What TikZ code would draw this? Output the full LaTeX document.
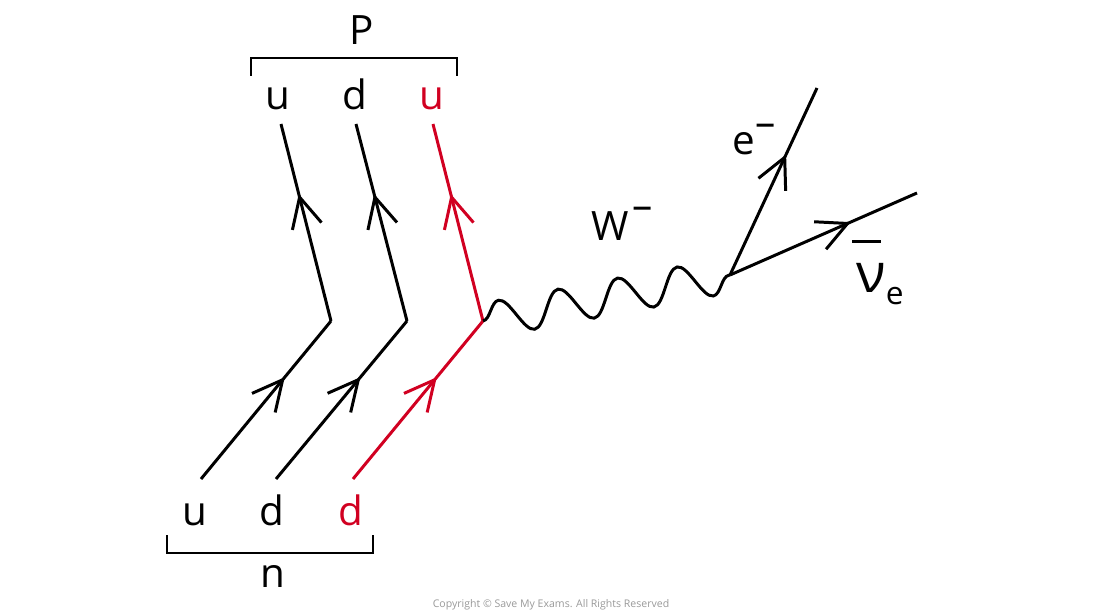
\documentclass[tikz,border=0pt]{standalone}
\usepackage{fontspec}
\setmainfont{Open Sans}
\usetikzlibrary{arrows.meta,decorations.markings,decorations.pathmorphing}
\definecolor{DecayClr}{rgb}{0.82,0.0,0.13}
\definecolor{NoteClr}{rgb}{0.6,0.6,0.6}
\newcommand{\qsize}{\fontsize{23}{27}\selectfont}

\begin{document}
\begin{tikzpicture}[x=0.02cm,y=-0.02cm,
  line width=1.7pt,
  fermion/.style={postaction={decorate},
    decoration={markings,mark=at position 0.645 with {\arrow{Straight Barb[length=0.6cm,width=0.6cm,line width=1.7pt]}}}},
  quark/.style={font=\qsize,anchor=base,inner sep=0pt},
  boson/.style={decorate,decoration={snake,amplitude=10pt,segment length=34.5pt}}]
\useasboundingbox (0,0) rectangle (1100,615);

% quark labels
\node[quark] (nu) at (195,525) {u};
\node[quark] (nd) at (272,525) {d};
\node[quark,DecayClr] (nd2) at (351,525) {d};
\node[quark] (pu) at (278,110) {u};
\node[quark] (pd) at (355,110) {d};
\node[quark,DecayClr] (pu2) at (432,110) {u};
\node[quark] (n) at (273,587) {n};
\node[quark] (P) at (362,45) {P};

% brackets
\draw[line width=1.5pt] (251,76) -- (251,58) -- (457,58) -- (457,76);
\draw[line width=1.5pt] (167,535) -- (167,553) -- (373,553) -- (373,535);

% line ends
\coordinate (A1) at (201,479);
\coordinate (A2) at (276,479);
\coordinate (A3) at (353,479);
\coordinate (K1) at (331,321);
\coordinate (K2) at (407,321);
\coordinate (V1) at (483,321);
\coordinate (B1) at (281,124);
\coordinate (B2) at (356,124);
\coordinate (B3) at (433,124);
\coordinate (V2) at (730,275);
\coordinate (E) at (817,88);
\coordinate (N) at (917,193);

% quark lines
\draw[fermion] (A1) -- (K1);
\draw[fermion] (K1) -- (B1);
\draw[fermion] (A2) -- (K2);
\draw[fermion] (K2) -- (B2);
\draw[fermion,DecayClr] (A3) -- (V1);
\draw[fermion,DecayClr] (V1) -- (B3);

% W boson
\draw[boson] (V1) -- (V2);
\node[font=\qsize,anchor=base,inner sep=0pt] (W) at (622,240) {W\hspace{2pt}\raisebox{0.5em}{–}};

% leptons
\draw[fermion] (V2) -- (E);
\draw[fermion] (V2) -- (N);
\node[font=\qsize,anchor=base,inner sep=0pt] (e) at (754,155) {e\raisebox{0.45em}{–}};
\node[font=\fontsize{31}{36}\selectfont,anchor=base,inner sep=0pt] (nue) at (871,293) {ν};
\draw[line width=1.5pt] ([xshift=-0.05cm,yshift=0.42cm]nue.north west) -- ++(29,0);
\node[font=\fontsize{18}{22}\selectfont,anchor=base west,inner sep=0pt] (nue2) at ([xshift=-0.06cm,yshift=-0.24cm]nue.base east) {e};

\node[font=\fontsize{6}{7}\selectfont,text=NoteClr] (copy) at (551,605) {Copyright © Save My Exams. All Rights Reserved};
\end{tikzpicture}
\end{document}
